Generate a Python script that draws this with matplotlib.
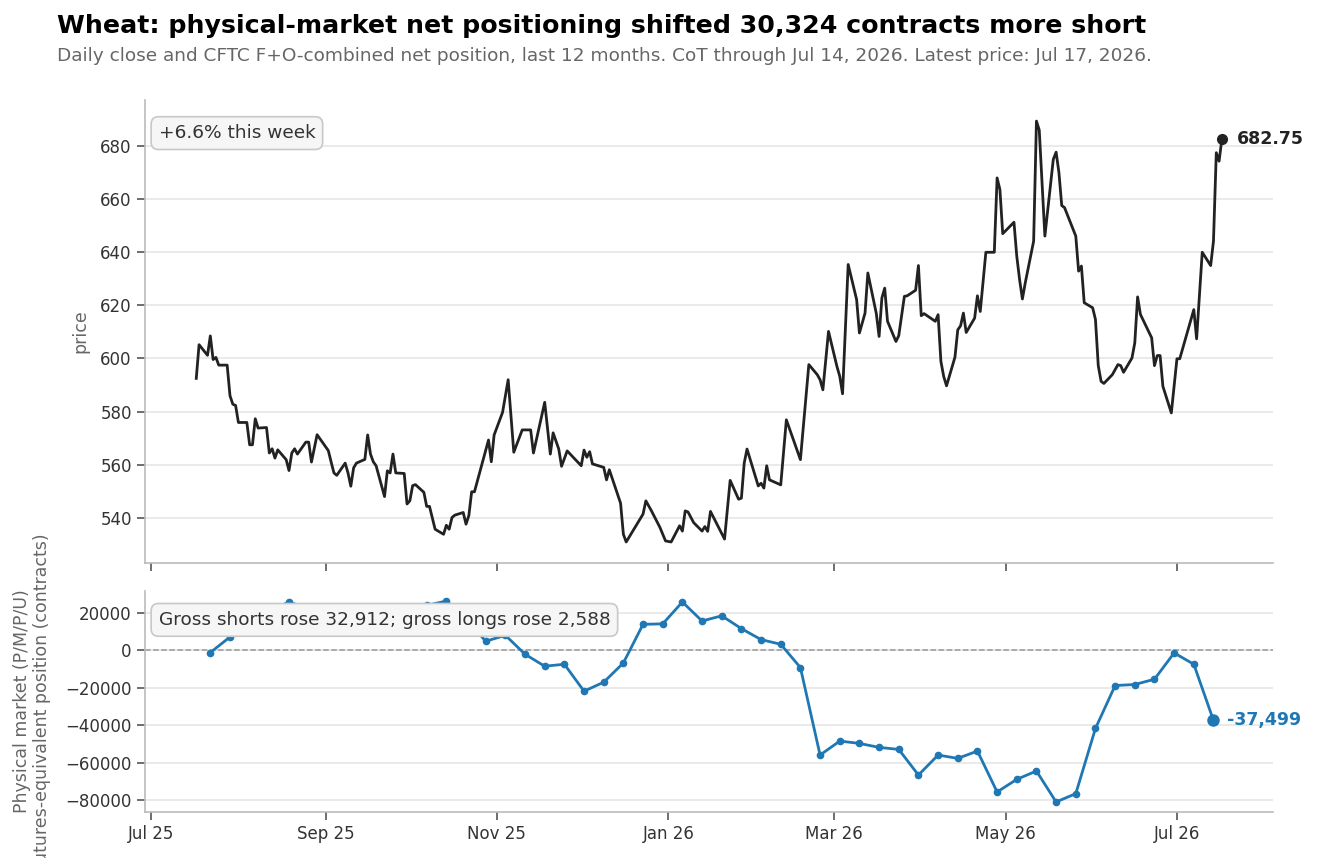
import matplotlib
matplotlib.use("Agg")
import matplotlib.pyplot as plt
import matplotlib.dates as mdates
import pandas as pd

# daily close (day = days since 2025-07-01)
price_day = [16, 17, 20, 21, 22, 23, 24, 27, 28, 29, 30, 31, 34, 35, 36, 37, 38, 41, 42, 43,
             44, 45, 48, 49, 50, 51, 52, 55, 56, 57, 59, 63, 64, 65, 66, 69, 70, 71, 72, 73,
             76, 77, 78, 79, 80, 83, 84, 85, 86, 87, 90, 91, 92, 93, 94, 97, 98, 99, 101, 104,
             105, 106, 107, 108, 111, 112, 113, 114, 115, 118, 120, 121, 122, 125, 127, 129, 132, 135, 136, 140,
             142, 143, 145, 146, 148, 153, 154, 155, 156, 157, 161, 162, 163, 167, 168, 169, 175, 176, 178, 181,
             183, 185, 188, 189, 190, 191, 193, 196, 197, 198, 199, 204, 206, 209, 210, 211, 212, 216, 217, 218,
             219, 220, 224, 226, 231, 234, 237, 238, 239, 241, 244, 245, 246, 248, 251, 252, 254, 255, 258, 259,
             260, 261, 262, 265, 266, 268, 269, 272, 273, 274, 275, 279, 280, 281, 282, 283, 286, 287, 288, 289,
             290, 293, 294, 295, 297, 300, 301, 302, 303, 307, 308, 309, 310, 311, 314, 315, 316, 318, 321, 322,
             323, 324, 325, 329, 330, 331, 332, 335, 336, 337, 338, 339, 342, 344, 345, 346, 349, 350, 351, 352,
             356, 357, 358, 359, 360, 363, 365, 366, 371, 372, 374, 377, 378, 379, 380, 381]
price = [592.5, 605.2, 601.2, 608.5, 599.6, 600.4, 597.5, 597.5, 586.0, 582.8, 582.3, 575.9, 575.9, 567.5, 567.5, 577.3, 573.8, 574.0, 564.4, 566.0,
         562.5, 565.6, 561.9, 557.8, 564.4, 566.0, 564.0, 568.5, 568.5, 561.0, 571.3, 565.3, 561.0, 556.9, 556.0, 560.6, 556.9, 551.9, 558.8, 560.6,
         562.0, 571.2, 564.0, 561.1, 559.6, 548.0, 557.7, 556.9, 564.0, 556.9, 556.7, 545.2, 546.4, 552.1, 552.5, 549.6, 544.3, 544.3, 535.7, 533.8,
         537.2, 535.7, 540.1, 541.0, 542.0, 537.6, 540.8, 549.8, 549.8, 561.5, 569.3, 561.1, 571.2, 579.7, 592.0, 564.7, 573.1, 573.1, 564.4, 583.5,
         564.0, 572.0, 565.9, 559.4, 565.2, 559.6, 565.5, 562.8, 564.9, 560.3, 559.0, 554.3, 558.1, 545.5, 533.8, 530.9, 541.4, 546.4, 542.6, 536.4,
         531.3, 530.9, 537.0, 535.0, 542.6, 542.2, 538.2, 535.0, 536.7, 534.9, 542.4, 532.0, 554.1, 547.0, 547.4, 560.6, 565.9, 552.0, 553.0, 551.2,
         559.6, 554.3, 552.4, 576.9, 561.9, 597.7, 593.9, 592.0, 588.2, 610.2, 597.0, 593.3, 586.7, 635.4, 622.2, 609.6, 617.1, 632.2, 617.0, 608.3,
         622.8, 626.5, 614.0, 606.4, 608.6, 623.4, 623.6, 625.7, 635.0, 616.1, 616.9, 614.0, 616.5, 598.9, 593.2, 589.7, 600.5, 610.8, 612.3, 617.1,
         609.8, 615.2, 623.6, 617.7, 640.0, 640.0, 668.0, 663.6, 647.0, 651.3, 638.5, 629.7, 622.4, 628.4, 644.2, 689.4, 686.0, 646.1, 675.0, 677.7,
         670.0, 657.6, 656.8, 646.1, 632.9, 634.8, 621.0, 619.1, 614.7, 597.3, 591.4, 590.6, 593.9, 597.7, 597.3, 594.8, 600.2, 605.9, 623.2, 616.6,
         607.8, 597.3, 601.1, 601.1, 589.5, 579.5, 599.9, 599.9, 618.4, 607.4, 640.0, 635.0, 644.2, 677.5, 674.3, 682.75]

# weekly CoT net position (Tuesdays from 2025-07-22)
cot_start = "2025-07-22"
net_pos = [-1240, 7100, 15000, 21000, 25800, 22000, 18000, 20000, 16000, 19000,
           22000, 24000, 26300, 17000, 4800, 8000, -2130, -8530, -7470, -21870,
           -17070, -6770, 13870, 14100, 25780, 15640, 18400, 11560, 5690, 3200,
           -9240, -56000, -48530, -49780, -51910, -52980, -66670, -56000, -57780, -53870,
           -75730, -68980, -64530, -81070, -76620, -41780, -18840, -18310, -15470, -1420,
           -7470, -37499]

title = "Wheat: physical-market net positioning shifted 30,324 contracts more short"
subtitle = ("Daily close and CFTC F+O-combined net position, last 12 months. "
            "CoT through Jul 14, 2026. Latest price: Jul 17, 2026.")
week_note = "+6.6% this week"
gross_note = "Gross shorts rose 32,912; gross longs rose 2,588"

price_dates = pd.Timestamp("2025-07-01") + pd.to_timedelta(price_day, unit="D")
cot_dates = pd.date_range(cot_start, periods=len(net_pos), freq="7D")

plt.rcParams["font.family"] = ["DejaVu Sans"]
fig = plt.figure(figsize=(13.18, 8.58), dpi=100)
ax1 = fig.add_axes([0.110, 0.3438, 0.856, 0.5396])
ax2 = fig.add_axes([0.110, 0.0536, 0.856, 0.2576], sharex=ax1)

dark = "#222222"
blue = "#1f77b4"
box = dict(boxstyle="round,pad=0.4", facecolor="#f6f6f6", edgecolor="#c8c8c8", linewidth=1.2)

for ax in (ax1, ax2):
    ax.grid(axis="y", color="#e6e6e6", linewidth=1.2)
    ax.set_axisbelow(True)
    for s in ("top", "right"):
        ax.spines[s].set_visible(False)
    for s in ("left", "bottom"):
        ax.spines[s].set_color("#bbbbbb")
        ax.spines[s].set_linewidth(1.2)
    ax.tick_params(colors="#555555", labelcolor="#333333", labelsize=12, length=6, width=1.2)

ax1.plot(price_dates, price, color=dark, linewidth=2)
ax1.plot(price_dates[-1], price[-1], "o", color=dark, markersize=7)
ax1.annotate(f"{price[-1]:.2f}", (price_dates[-1], price[-1]), xytext=(11, 0),
             textcoords="offset points", va="center", fontsize=12.5, fontweight="bold", color=dark)
ax1.text(0.012, 0.948, week_note, transform=ax1.transAxes, va="top", ha="left",
         fontsize=13.3, color="#333333", bbox=box)
ax1.set_ylabel("price", fontsize=12.5, color="#666666", labelpad=8)
ax1.tick_params(axis="x", labelbottom=False)

ax2.axhline(0, color="#999999", linestyle="--", linewidth=1.1, zorder=1)
ax2.plot(cot_dates, net_pos, color=blue, linewidth=2, marker="o", markersize=4.5)
ax2.plot(cot_dates[-1], net_pos[-1], "o", color=blue, markersize=8)
ax2.annotate(f"{net_pos[-1]:,}", (cot_dates[-1], net_pos[-1]), xytext=(10, 0),
             textcoords="offset points", va="center", fontsize=12.5, fontweight="bold", color=blue)
ax2.text(0.012, 0.91, gross_note, transform=ax2.transAxes, va="top", ha="left",
         fontsize=13.3, color="#333333", bbox=box, zorder=5)
ax2.set_ylabel("Physical market (P/M/P/U)\nfutures-equivalent position (contracts)",
               fontsize=12.5, color="#666666", labelpad=10)

ax2.xaxis.set_major_locator(mdates.MonthLocator(bymonth=[1, 3, 5, 7, 9, 11]))
ax2.xaxis.set_major_formatter(mdates.DateFormatter("%b %y"))

fig.text(0.043, 0.962, title, fontsize=18.2, fontweight="bold", color="black", va="baseline")
fig.text(0.043, 0.929, subtitle, fontsize=13.3, color="#666666", va="baseline")

fig.savefig("out.png", dpi=100)
